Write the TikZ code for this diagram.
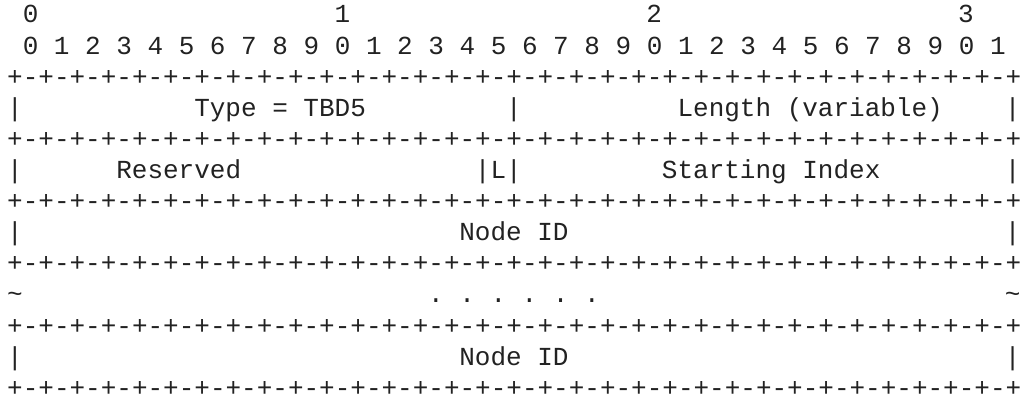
\documentclass[tikz,border=0pt]{standalone}
\usepackage{fontspec}
\newfontfamily\codefont{Liberation Mono}
\usepackage{xcolor}
\definecolor{ink}{HTML}{222222}

\newcommand{\ruleseg}{+-+-+-+-}
\newcommand{\ruleline}{\ruleseg\ruleseg\ruleseg\ruleseg\ruleseg\ruleseg\ruleseg\ruleseg+}

\begin{document}
\begin{tikzpicture}[x=15.59pt, y=-31.1pt,
    cell/.style={anchor=base west, inner sep=0pt, outer sep=0pt, text=ink,
                 font=\fontsize{26pt}{31pt}\codefont\frenchspacing}]
    \fill[white] (-7.2pt,23pt) rectangle (1016.8pt,-378pt);

    % bit numbers
    \foreach \d in {0,...,3}
        \node[cell] (tens\d) at ({1+20*\d},0) {\d};
    \node[cell] (bits) at (1,1) {0 1 2 3 4 5 6 7 8 9 0 1 2 3 4 5 6 7 8 9 0 1 2 3 4 5 6 7 8 9 0 1};

    % borders and sides
    \foreach \r in {2,4,...,12}
        \node[cell] (border\r) at (0,\r) {\ruleline};
    \foreach \r in {3,5,7,11} {
        \node[cell] (left\r) at (0,\r) {|};
        \node[cell] (right\r) at (64,\r) {|};
    }

    % fields
    \node[cell] (type) at (12,3) {Type = TBD5};
    \node[cell] (mid3) at (32,3) {|};
    \node[cell] (length) at (43,3) {Length (variable)};
    \node[cell] (reserved) at (7,5) {Reserved};
    \node[cell] (lflag) at (30,5) {|L|};
    \node[cell] (start) at (42,5) {Starting Index};
    \node[cell] (nodeid) at (29,7) {Node ID};
    \node[cell] (tildeleft) at (0,9) {\textasciitilde};
    \node[cell] (dots) at (27,9) {. . . . . .};
    \node[cell] (tilderight) at (64,9) {\textasciitilde};
    \node[cell] (lastid) at (29,11) {Node ID};
\end{tikzpicture}
\end{document}
